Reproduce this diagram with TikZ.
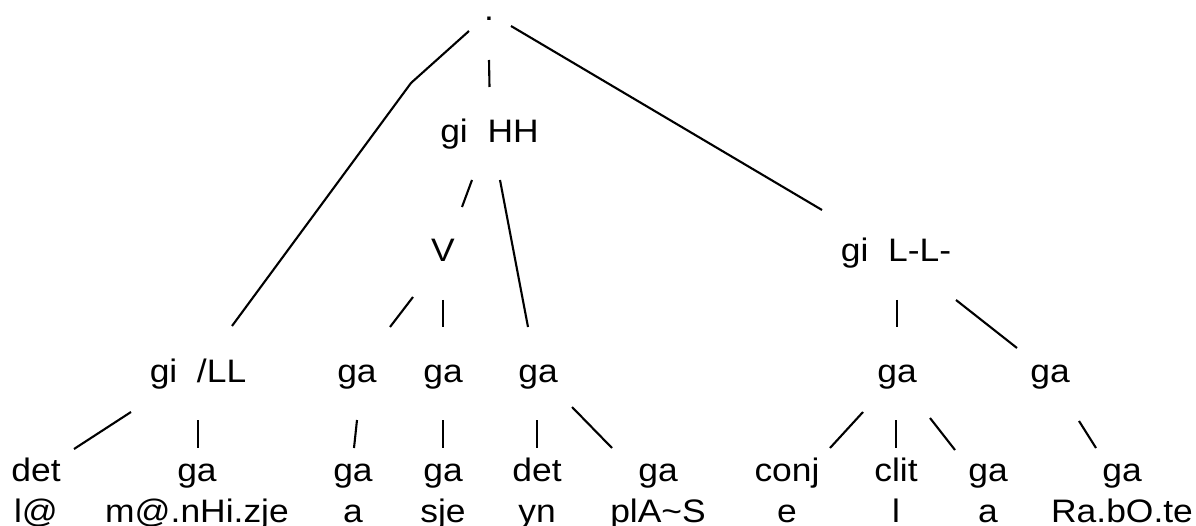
\documentclass[tikz,border=0pt]{standalone}
\usepackage{fontspec}
\setmainfont{Liberation Sans}[FakeStretch=1.09]
\usetikzlibrary{calc}
\begin{document}
\begin{tikzpicture}[x=1pt,y=-1pt,
  tx/.style={anchor=base,inner sep=0pt,font=\fontsize{32.5}{36}\selectfont},
  br/.style={line width=2.1pt}]
\useasboundingbox (0,0) rectangle (1196,526);
% phrase level
\node[tx] (root) at (489,21) {.};
\node[tx] (hh) at (489.5,143) {gi\ \ HH};
\node[tx] (v) at (443,262) {V};
\node[tx] (ll) at (896,262) {gi\ \ L-L-};
\node[tx] (sll) at (198,382) {gi\ \ /LL};
\node[tx] (g1) at (357,382) {ga};
\node[tx] (g2) at (443,382) {ga};
\node[tx] (g3) at (538,382) {ga};
\node[tx] (g4) at (897,382) {ga};
\node[tx] (g5) at (1050,382) {ga};
% word categories
\node[tx] (c1) at (36,481) {det};
\node[tx] (c2) at (197,481) {ga};
\node[tx] (c3) at (353,481) {ga};
\node[tx] (c4) at (443,481) {ga};
\node[tx] (c5) at (537,481) {det};
\node[tx] (c6) at (658,481) {ga};
\node[tx] (c7) at (787,481) {conj};
\node[tx] (c8) at (896,481) {clit};
\node[tx] (c9) at (988,481) {ga};
\node[tx] (c10) at (1122,481) {ga};
% words
\node[tx] (w1) at (36,522) {l@};
\node[tx] (w2) at (197,522) {m@.nHi.zje};
\node[tx] (w3) at (353,522) {a};
\node[tx] (w4) at (443,522) {sje};
\node[tx] (w5) at (537,522) {yn};
\node[tx] (w6) at (658,522) {plA\char`~S};
\node[tx] (w7) at (787,522) {e};
\node[tx] (w8) at (896,522) {l};
\node[tx] (w9) at (988,522) {a};
\node[tx] (w10) at (1122,522) {Ra.bO.te};
% branches
\coordinate (rbend) at (411,83);
\draw[br] ($(root.base)+(-20,10)$) -- (rbend) -- ($(sll.base)+(34,-56)$);
\draw[br] ($(root.base)+(0,39)$) -- ($(hh.base)+(0,-56)$);
\draw[br] ($(root.base)+(22,5)$) -- ($(ll.base)+(-74,-52)$);
\draw[br] ($(hh.base)+(-17.5,37)$) -- ($(v.base)+(19,-55)$);
\draw[br] ($(hh.base)+(10.5,37)$) -- ($(g3.base)+(-10,-55)$);
\draw[br] ($(v.base)+(-30,35)$) -- ($(g1.base)+(33,-55)$);
\draw[br] ($(v.base)+(0,38)$) -- ($(g2.base)+(0,-55)$);
\draw[br] ($(ll.base)+(1,38)$) -- ($(g4.base)+(0,-55)$);
\draw[br] ($(ll.base)+(60,38)$) -- ($(g5.base)+(-33,-34)$);
\draw[br] ($(sll.base)+(-67,30)$) -- ($(c1.base)+(38,-32)$);
\draw[br] ($(sll.base)+(0,38)$) -- ($(c2.base)+(1,-33)$);
\draw[br] ($(g1.base)+(0,38)$) -- ($(c3.base)+(1,-33)$);
\draw[br] ($(g2.base)+(0,38)$) -- ($(c4.base)+(0,-33)$);
\draw[br] ($(g3.base)+(-1,38)$) -- ($(c5.base)+(0,-33)$);
\draw[br] ($(g3.base)+(34,25)$) -- ($(c6.base)+(-46,-33)$);
\draw[br] ($(g4.base)+(-34,30)$) -- ($(c7.base)+(43,-33)$);
\draw[br] ($(g4.base)+(-1,38)$) -- ($(c8.base)+(0,-33)$);
\draw[br] ($(g4.base)+(33,36)$) -- ($(c9.base)+(-33,-31)$);
\draw[br] ($(g5.base)+(29,39)$) -- ($(c10.base)+(-26,-33)$);
\end{tikzpicture}
\end{document}
